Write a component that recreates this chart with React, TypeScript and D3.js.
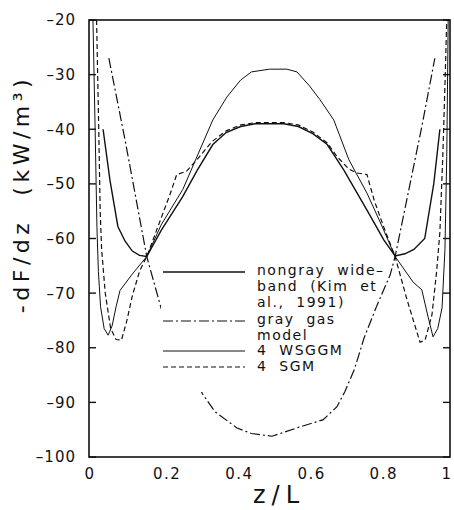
import React from 'react';
import * as d3 from 'd3';

// axis ticks
const yTicks = [-20, -30, -40, -50, -60, -70, -80, -90, -100];
const yTickLabels = ['\u201320', '\u201330', '\u201340', '\u201350', '\u201360', '\u201370', '\u201380', '\u201390', '\u2013100'];
const xTicks = [0, 0.2, 0.4, 0.6, 0.8, 1];
const xTickLabels = ['0', '0.2', '0.4', '0.6', '0.8', '1'];

// nongray wide-band (Kim et al., 1991)
const nongrayZ = [0.039, 0.058, 0.08, 0.1, 0.12, 0.14, 0.16, 0.2, 0.26, 0.3, 0.343, 0.38, 0.42, 0.46, 0.5, 0.54, 0.58, 0.62, 0.66, 0.706, 0.77, 0.817, 0.848, 0.875, 0.9, 0.93, 0.955, 0.972];
const nongrayVal = [-40, -49.3, -57.8, -60.5, -62.3, -63.1, -63.3, -58.5, -52.3, -47.5, -42.8, -40.6, -39.5, -39, -39, -39, -39.5, -40.8, -42.8, -47.5, -54.8, -60.3, -63.2, -62.8, -62, -60, -50, -40];

// gray gas model
const grayZ = [0.055, 0.1, 0.16, 0.205, 0.26, 0.316, 0.349, 0.41, 0.45, 0.507, 0.584, 0.648, 0.687, 0.709, 0.735, 0.762, 0.798, 0.834, 0.848, 0.88, 0.922, 0.958];
const grayVal = [-27, -42, -63.3, -74, -82, -88.6, -91.7, -94.7, -95.7, -96.2, -94.5, -93.2, -90.8, -88, -84, -78.2, -72.2, -66.7, -63.3, -53, -39.5, -27];

// 4 WSGGM
const wsggmZ = [0.011, 0.017, 0.022, 0.026, 0.032, 0.042, 0.053, 0.064, 0.075, 0.086, 0.12, 0.16, 0.2, 0.26, 0.307, 0.343, 0.382, 0.42, 0.45, 0.5, 0.548, 0.576, 0.61, 0.64, 0.678, 0.72, 0.77, 0.81, 0.848, 0.898, 0.922, 0.938, 0.953, 0.966, 0.978, 0.986, 0.991, 0.995];
const wsggmVal = [-20, -40, -58, -66, -72.5, -76.5, -77.7, -76, -72.5, -69.5, -66.5, -63.3, -57.5, -51, -43.8, -38.3, -34.1, -31, -29.5, -29, -29, -29.5, -32, -34.6, -38.3, -45.6, -51.7, -57.5, -63.3, -68, -69.4, -74, -78, -76.5, -72.7, -62, -45, -20];

// 4 SGM
const sgmZ = [0.021, 0.027, 0.031, 0.035, 0.045, 0.06, 0.075, 0.09, 0.105, 0.12, 0.14, 0.16, 0.19, 0.224, 0.243, 0.27, 0.3, 0.34, 0.38, 0.42, 0.46, 0.5, 0.54, 0.58, 0.62, 0.66, 0.687, 0.72, 0.742, 0.77, 0.79, 0.817, 0.848, 0.88, 0.917, 0.931, 0.95, 0.963, 0.972, 0.98, 0.986, 0.991];
const sgmVal = [-20, -40, -55, -62, -70, -76.5, -78.5, -78.6, -75, -70.5, -66, -63.3, -58, -52, -48.3, -47.7, -45.5, -42.3, -40.3, -39.2, -38.8, -38.8, -38.8, -39.2, -40.5, -42.5, -45, -47.3, -48, -48.3, -53, -58, -63.3, -71, -79, -78.6, -74, -66, -58.8, -45, -32, -20];

const seriesNames = ['nongray', 'gray', 'wsggm', 'sgm'];
const legendLabels = [
  ['nongray  wide\u2013', 'band  (Kim  et', 'al.,  1991)'],
  ['gray  gas', 'model'],
  ['4  WSGGM'],
  ['4  SGM'],
];

const W = 454;
const H = 510;
const margin = { left: 89, right: 4, top: 20, bottom: 53 };

const styles: Record<string, { dash: string; width: number }> = {
  nongray: { dash: '', width: 1.4 },
  gray: { dash: '10,3,2,3', width: 1.2 },
  wsggm: { dash: '', width: 1.0 },
  sgm: { dash: '5,3', width: 1.2 },
};

export default function App() {
  const x = d3.scaleLinear().domain([0, 1]).range([margin.left, W - margin.right]);
  const y = d3.scaleLinear().domain([-20, -100]).range([margin.top, H - margin.bottom]);

  const line = d3
    .line<[number, number]>()
    .x(d => x(d[0]))
    .y(d => y(d[1]));

  const data: Record<string, [number, number][]> = {
    nongray: nongrayZ.map((z, i) => [z, nongrayVal[i]]),
    gray: grayZ.map((z, i) => [z, grayVal[i]]),
    wsggm: wsggmZ.map((z, i) => [z, wsggmVal[i]]),
    sgm: sgmZ.map((z, i) => [z, sgmVal[i]]),
  };

  const ink = '#111';
  const x0 = x(0);
  const x1 = x(1);
  const yTop = y(-20);
  const yBot = y(-100);

  // legend layout
  const legX0 = 163;
  const legX1 = 245;
  const legTextX = 257;
  const sampleY = [272, 321, 351, 367];
  const textY = [275, 324, 355, 371];
  const lineH = 16;

  return (
    <svg
      width={W}
      height={H}
      style={{ position: 'absolute', left: 0, top: 0, background: '#fff' }}
      fontFamily="DejaVu Sans, sans-serif"
    >
      <rect x={0} y={0} width={W} height={H} fill="#fff" />

      {/* curves */}
      <g fill="none" stroke={ink}>
        {seriesNames.map(name => (
          <path
            key={name}
            d={line(data[name]) || ''}
            strokeWidth={styles[name].width}
            strokeDasharray={styles[name].dash}
          />
        ))}
      </g>

      {/* legend */}
      <rect x={161} y={262} width={90} height={130} fill="#fff" />
      <g>
        {seriesNames.map((name, i) => (
          <g key={name}>
            <line
              x1={legX0}
              x2={legX1}
              y1={sampleY[i]}
              y2={sampleY[i]}
              stroke={ink}
              strokeWidth={styles[name].width}
              strokeDasharray={styles[name].dash}
            />
            {legendLabels[i].map((t, j) => (
              <text
                key={j}
                x={legTextX}
                y={textY[i] + j * lineH}
                fontSize={14}
                letterSpacing={1.5}
                fill={ink}
                style={{ whiteSpace: 'pre' }}
              >
                {t}
              </text>
            ))}
          </g>
        ))}
      </g>

      {/* frame */}
      <rect x={x0} y={yTop} width={x1 - x0} height={yBot - yTop} fill="none" stroke={ink} strokeWidth={1.6} />

      {/* y ticks, inside on both sides */}
      {yTicks.map((t, i) => (
        <g key={t}>
          <line x1={x0} x2={x0 + 7} y1={y(t)} y2={y(t)} stroke={ink} strokeWidth={1.4} />
          <line x1={x1} x2={x1 - 7} y1={y(t)} y2={y(t)} stroke={ink} strokeWidth={1.4} />
          <text
            x={76}
            y={y(t)}
            dy="0.36em"
            textAnchor="end"
            fontSize={15}
            letterSpacing={1}
            fill={ink}
          >
            {yTickLabels[i]}
          </text>
        </g>
      ))}

      {/* x tick labels */}
      {xTicks.map((t, i) => (
        <text
          key={t}
          x={x(t) + (xTickLabels[i].length > 1 ? 6 : t === 1 ? -3 : 1)}
          y={479}
          textAnchor="middle"
          fontSize={15}
          letterSpacing={1.5}
          fill={ink}
        >
          {xTickLabels[i]}
        </text>
      ))}

      {/* axis titles */}
      <text x={279} y={503} textAnchor="middle" fontSize={24} letterSpacing={6} fill={ink}>
        z/L
      </text>
      <text
        transform={`translate(29,194) rotate(-90)`}
        textAnchor="middle"
        fontSize={22}
        letterSpacing={4.5}
        fill={ink}
        style={{ whiteSpace: 'pre' }}
      >
        -dF/dz  (kW/m³)
      </text>
    </svg>
  );
}
